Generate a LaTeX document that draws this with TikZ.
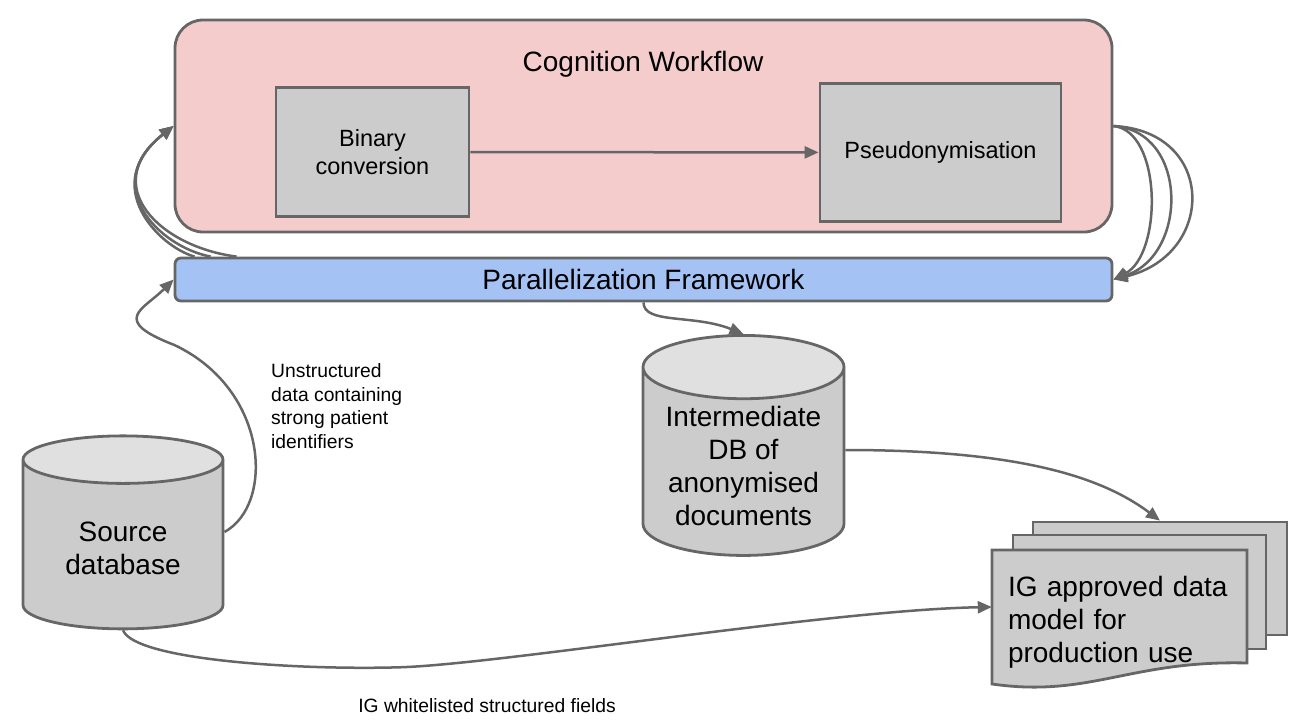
\documentclass[tikz,border=0pt]{standalone}
\usepackage{fontspec}
\setmainfont{Liberation Sans}
\usepackage{xcolor}
\usepackage{tikz}
\usetikzlibrary{shapes,arrows.meta,positioning}
\definecolor{cogpink}{HTML}{F4CCCC}
\definecolor{parblue}{HTML}{A4C2F4}
\definecolor{boxgray}{HTML}{CCCCCC}
\definecolor{toplight}{HTML}{E0E0E0}
\definecolor{linegray}{HTML}{666666}
\tikzstyle{frame} = [draw=linegray, line width=2.8pt, rectangle, rounded corners=28pt, fill=cogpink]
\tikzstyle{block} = [draw=linegray, line width=2.8pt, rectangle, fill=boxgray, align=center, font=\fontsize{23.5}{28}\selectfont]
\tikzstyle{bar} = [draw=linegray, line width=2.8pt, rectangle, rounded corners=6pt, fill=parblue, font=\fontsize{28}{32}\selectfont]
\tikzstyle{db} = [cylinder, shape border rotate=90, draw=linegray, line width=2.8pt, cylinder uses custom fill, cylinder body fill=boxgray, cylinder end fill=toplight, aspect=0.39, align=center, inner ysep=2pt, font=\fontsize{28}{33}\selectfont]
\tikzstyle{page} = [draw=linegray, line width=2.8pt, rectangle, fill=boxgray]
\tikzstyle{note} = [inner sep=0pt, align=left, font=\fontsize{19.3}{23.4}\selectfont]
\tikzstyle{conn} = [draw=linegray, line width=2.5pt, ->]

\begin{document}
\begin{tikzpicture}[x=1pt, y=-1pt, >={Triangle[length=14pt,width=12pt]}]
	  \useasboundingbox (0,0) rectangle (1302,723);

	  % cognition workflow
	  \node [frame, minimum width=937, minimum height=212] (cog) at (643.5,126) {};
	  \node [font=\fontsize{28}{32}\selectfont] (cogtitle) at (643,64) {Cognition Workflow};
	  \node [block, minimum width=193, minimum height=129] (bin) at (372.5,152) {Binary\\conversion};
	  \node [block, minimum width=241, minimum height=138] (pse) at (940.5,152.5) {Pseudonymisation};
	  \node [bar, minimum width=937, minimum height=43] (par) at (643.5,279.5) {Parallelization Framework};

	  % databases
	  \node [db, minimum width=200, minimum height=193] (src) at (123,548) {Source\\database};
	  \node [db, minimum width=201, minimum height=220] (idb) at (743.5,466) {Intermediate\\DB of\\anonymised\\documents};

	  % document stack
	  \node [page, minimum width=254, minimum height=113] (doc3) at (1160,578.5) {};
	  \node [page, minimum width=253, minimum height=114] (doc2) at (1139.5,592) {};
	  \filldraw [page] (992,550) -- (1247,550) -- (1247,663)
	    .. controls (1130,660) and (1090,698) .. (992,684) -- cycle;
	  \node [inner xsep=16, text width=223, minimum width=255, align=left, font=\fontsize{28}{33}\selectfont] (doc) at (1119.5,622) {IG approved data\\model for\\production use};

	  % labels
	  \node [note, anchor=west] (unstr) at (271,406) {Unstructured\\data containing\\strong patient\\identifiers};
	  \node [note] (white) at (487,706) {IG whitelisted structured fields};

	  % connectors
	  \draw [conn] (bin) -- (pse);
	  \foreach \s in {21,37,63}
	    \draw [conn] ([xshift=\s]par.north west) .. controls ([shift={(-15,-10)}]par.north west) and ([shift={(-75,59)}]cog.west) .. (cog.west);
	  \foreach \d in {49,75,103}
	    \draw [conn] (cog.east) .. controls +(\d,5) and +(\d,-25) .. (par.east);
	  \draw [conn] (par.south) .. controls +(0,22) and +(-50,-20) .. (idb.90);
	  \draw [conn] ([yshift=16]idb.0) .. controls +(170,0) and +(-60,-45) .. (doc3.north);
	  \draw [conn] ([yshift=16]src.0) .. controls +(50,-27) and +(95,45) .. ++(-50,-187)
	    .. controls +(-65,-25) and +(-30,30) .. (par.west);
	  \draw [conn] (src.270) .. controls +(12,30) and +(-100,3) .. ++(277,37)
	    .. controls +(100,-3) and +(-162,3) .. ([yshift=15]doc.west);
	\end{tikzpicture}
\end{document}
